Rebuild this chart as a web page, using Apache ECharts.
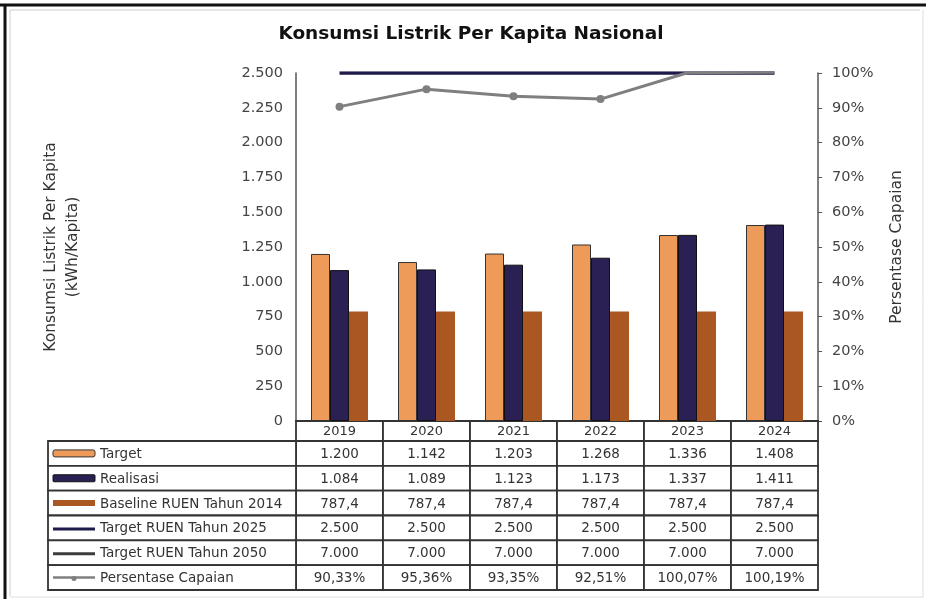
<!DOCTYPE html>
<html><head><meta charset="utf-8">
<script src="https://cdn.jsdelivr.net/npm/echarts@6/dist/echarts.min.js"></script>
<style>html,body{margin:0;padding:0;background:#fff}#c{width:926px;height:599px}</style>
</head><body><div id="c"></div>
<script>
// ---- data ----
const categories = ['2019', '2020', '2021', '2022', '2023', '2024'];
const targetValues = [1200, 1142, 1203, 1268, 1336, 1408];
const realisasiValues = [1084, 1089, 1123, 1173, 1337, 1411];
const baselineValues = [787.4, 787.4, 787.4, 787.4, 787.4, 787.4];
const ruen2025Values = [2500, 2500, 2500, 2500, 2500, 2500];
const ruen2050Values = [7000, 7000, 7000, 7000, 7000, 7000];
const capaianValues = [90.33, 95.36, 93.35, 92.51, 100.07, 100.19];
const seriesNames = ['Target', 'Realisasi', 'Baseline RUEN Tahun 2014', 'Target RUEN Tahun 2025', 'Target RUEN Tahun 2050', 'Persentase Capaian'];
const leftAxis = { min: 0, max: 2500, interval: 250 };
const rightAxis = { min: 0, max: 100, interval: 10 };

// ---- styles ----
const FONT = '"DejaVu Sans", Verdana, sans-serif';
const C_TARGET = '#EE9A58', C_REAL = '#2A2053', C_BASE = '#AA5722', C_R25 = '#1E1A4A', C_R50 = '#3C3C3C', C_CAP = '#7F7F7F';
const GRID_L = 296, GRID_W = 522;
const TABLE_FS = 13.5;

function fmtId(v) {
  let s = String(v).split('.');
  let i = s[0].replace(/\B(?=(\d{3})+(?!\d))/g, '.');
  return i + (s[1] ? ',' + s[1] : '');
}
function fmtPct(v) { return v.toFixed(2).replace('.', ',') + '%'; }

const rowValues = [targetValues, realisasiValues, baselineValues, ruen2025Values, ruen2050Values, capaianValues];
const rowFormat = [fmtId, fmtId, fmtId, fmtId, fmtId, fmtPct];

const bodyData = [], bodyText = [];
rowValues.forEach((arr, r) => arr.forEach((v, c) => { bodyData.push([c, r]); bodyText.push(rowFormat[r](v)); }));
const headerData = categories.map((c, i) => [i, 0]);
const legendData = seriesNames.map((n, r) => [0, r]);

function cellRect(p, s) {
  return { type: 'rect', shape: { x: p[0] - s[0] / 2, y: p[1] - s[1] / 2, width: s[0], height: s[1] },
    style: { fill: '#fff', stroke: '#333', lineWidth: 1.8 } };
}
function textEl(t, x, y, align, fs) {
  return { type: 'text', style: { text: t, x: x, y: y, align: align, verticalAlign: 'middle', fontSize: fs || TABLE_FS, fontFamily: FONT, fill: '#333' } };
}

function renderBody(params, api) {
  const p = api.coord([api.value(0), api.value(1)]);
  const s = api.size([1, 1]);
  return { type: 'group', children: [cellRect(p, s), textEl(bodyText[params.dataIndex], p[0], p[1] + 1, 'center')] };
}
function renderHeader(params, api) {
  const p = api.coord([api.value(0), api.value(1)]);
  const s = api.size([1, 1]);
  return { type: 'group', children: [cellRect(p, s), textEl(categories[params.dataIndex], p[0], p[1] + 1, 'center', 13)] };
}
function renderLegend(params, api) {
  const r = api.value(1);
  const p = api.coord([api.value(0), r]);
  const s = api.size([1, 1]);
  const x0 = p[0] - s[0] / 2, cy = p[1];
  const children = [cellRect(p, s)];
  const sx = x0 + 5, sw = 42;
  if (r === 0) children.push({ type: 'rect', shape: { x: sx, y: cy - 3.5, width: sw, height: 7, r: 2 }, style: { fill: C_TARGET, stroke: '#333', lineWidth: 1 } });
  else if (r === 1) children.push({ type: 'rect', shape: { x: sx, y: cy - 3.5, width: sw, height: 7, r: 1 }, style: { fill: C_REAL, stroke: '#111', lineWidth: 1 } });
  else if (r === 2) children.push({ type: 'rect', shape: { x: sx, y: cy - 3, width: sw, height: 6 }, style: { fill: C_BASE } });
  else if (r === 3) children.push({ type: 'line', shape: { x1: sx, y1: cy + 1, x2: sx + sw, y2: cy + 1 }, style: { stroke: C_R25, lineWidth: 3 } });
  else if (r === 4) children.push({ type: 'line', shape: { x1: sx, y1: cy + 1, x2: sx + sw, y2: cy + 1 }, style: { stroke: C_R50, lineWidth: 3 } });
  else {
    children.push({ type: 'line', shape: { x1: sx, y1: cy, x2: sx + sw, y2: cy }, style: { stroke: C_CAP, lineWidth: 2.5 } });
    children.push({ type: 'circle', shape: { cx: sx + sw / 2, cy: cy + 1, r: 2.5 }, style: { fill: C_CAP } });
  }
  children.push(textEl(seriesNames[r], sx + sw + 5, cy + 1, 'left'));
  return { type: 'group', children: children };
}

const chart = echarts.init(document.getElementById('c'), null, { renderer: 'canvas' });
chart.setOption({
  animation: false,
  backgroundColor: '#fff',
  textStyle: { fontFamily: FONT },
  title: { text: 'Konsumsi Listrik Per Kapita Nasional', left: 466, textAlign: 'center', top: 20,
    textStyle: { fontSize: 18.5, fontWeight: 'bold', color: '#111', fontFamily: FONT } },
  graphic: [
    { type: 'line', shape: { x1: 0, y1: 5, x2: 926, y2: 5 }, style: { stroke: '#111', lineWidth: 3 } },
    { type: 'line', shape: { x1: 5, y1: 5, x2: 5, y2: 599 }, style: { stroke: '#111', lineWidth: 3 } },
    { type: 'line', shape: { x1: 10, y1: 10, x2: 920, y2: 10 }, style: { stroke: '#ccc', lineWidth: 1 } },
    { type: 'line', shape: { x1: 10, y1: 10, x2: 10, y2: 596 }, style: { stroke: '#ccc', lineWidth: 1 } },
    { type: 'line', shape: { x1: 923, y1: 10, x2: 923, y2: 597 }, style: { stroke: '#ddd', lineWidth: 1 } },
    { type: 'line', shape: { x1: 10, y1: 597, x2: 923, y2: 597 }, style: { stroke: '#ddd', lineWidth: 1 } }
  ],
  grid: [
    { left: GRID_L, top: 73, width: GRID_W, height: 348 },
    { left: GRID_L, top: 421, width: GRID_W, height: 20 },
    { left: GRID_L, top: 441, width: GRID_W, height: 149 },
    { left: 48, top: 441, width: 248, height: 149 }
  ],
  xAxis: [
    { type: 'category', gridIndex: 0, data: categories, axisLabel: { show: false }, axisTick: { show: false },
      axisLine: { lineStyle: { color: '#333', width: 1.5 } } },
    { type: 'category', gridIndex: 1, data: categories, show: false },
    { type: 'category', gridIndex: 2, data: categories, show: false },
    { type: 'category', gridIndex: 3, data: ['legend'], show: false }
  ],
  yAxis: [
    { type: 'value', gridIndex: 0, position: 'left', min: leftAxis.min, max: leftAxis.max, interval: leftAxis.interval,
      name: 'Konsumsi Listrik Per Kapita\n(kWh/Kapita)', nameLocation: 'middle', nameGap: 212, nameRotate: 90,
      nameTextStyle: { fontSize: 15.5, color: '#333', lineHeight: 22, fontFamily: FONT },
      axisLine: { show: true, lineStyle: { color: '#555', width: 1.5 } }, axisTick: { show: false },
      splitLine: { show: false },
      axisLabel: { formatter: v => fmtId(v), fontSize: 14.5, color: '#444', margin: 13, fontFamily: FONT } },
    { type: 'value', gridIndex: 0, position: 'right', min: rightAxis.min, max: rightAxis.max, interval: rightAxis.interval,
      name: 'Persentase Capaian', nameLocation: 'middle', nameGap: 71, nameRotate: 90,
      nameTextStyle: { fontSize: 15.5, color: '#333', fontFamily: FONT },
      axisLine: { show: true, lineStyle: { color: '#555', width: 1.5 } },
      axisTick: { show: true, length: 4, lineStyle: { color: '#555' } },
      splitLine: { show: false },
      axisLabel: { formatter: v => v + '%', fontSize: 14.5, color: '#444', margin: 14, fontFamily: FONT } },
    { type: 'category', gridIndex: 1, data: ['tahun'], show: false },
    { type: 'category', gridIndex: 2, data: seriesNames, inverse: true, show: false },
    { type: 'category', gridIndex: 3, data: seriesNames, inverse: true, show: false }
  ],
  series: [
    { name: seriesNames[0], type: 'bar', xAxisIndex: 0, yAxisIndex: 0, data: targetValues, barWidth: 19, barGap: '0%',
      itemStyle: { color: C_TARGET, borderColor: '#333', borderWidth: 1 } },
    { name: seriesNames[1], type: 'bar', xAxisIndex: 0, yAxisIndex: 0, data: realisasiValues, barWidth: 19, barGap: '0%',
      itemStyle: { color: C_REAL, borderColor: '#111', borderWidth: 1 } },
    { name: seriesNames[2], type: 'bar', xAxisIndex: 0, yAxisIndex: 0, data: baselineValues, barWidth: 19, barGap: '0%',
      itemStyle: { color: C_BASE } },
    { name: seriesNames[3], type: 'line', xAxisIndex: 0, yAxisIndex: 0, data: ruen2025Values, symbol: 'none',
      lineStyle: { color: C_R25, width: 3.5 } },
    { name: seriesNames[4], type: 'line', xAxisIndex: 0, yAxisIndex: 0, data: ruen2050Values, symbol: 'none', clip: true,
      lineStyle: { color: C_R50, width: 3 } },
    { name: seriesNames[5], type: 'line', xAxisIndex: 0, yAxisIndex: 1, data: capaianValues, symbol: 'circle', symbolSize: 8,
      itemStyle: { color: C_CAP }, lineStyle: { color: C_CAP, width: 3 } },
    { type: 'custom', xAxisIndex: 1, yAxisIndex: 2, data: headerData, renderItem: renderHeader },
    { type: 'custom', xAxisIndex: 2, yAxisIndex: 3, data: bodyData, renderItem: renderBody },
    { type: 'custom', xAxisIndex: 3, yAxisIndex: 4, data: legendData, renderItem: renderLegend }
  ]
});
</script>
</body></html>
